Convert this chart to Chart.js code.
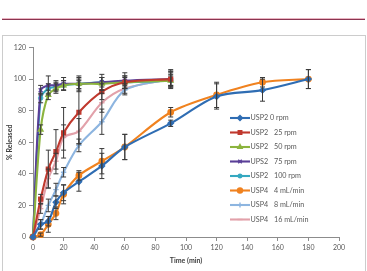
<!DOCTYPE html>
<html>
<head>
<meta charset="utf-8">
<script src="https://cdn.jsdelivr.net/npm/chart.js@4/dist/chart.umd.min.js"></script>
<style>
html,body{margin:0;padding:0;background:#fff;}
#wrap{position:relative;width:367px;height:271px;overflow:hidden;}
#topline{position:absolute;left:2px;top:18.5px;width:363px;height:1.5px;background:#8a3550;box-shadow:0 -1px 0 #eab3c1;}
#box{position:absolute;left:2px;top:35px;width:362px;height:260px;border:1px solid #cccccc;}
canvas{position:absolute;left:0;top:0;}
</style>
</head>
<body>
<div id="wrap">
<div id="topline"></div>
<div id="box"></div>
<canvas id="c" width="367" height="271"></canvas>
</div>
<script>
// ---- data ----
const timeLong  = [0, 5, 10, 15, 20, 30, 45, 60, 90, 120, 150, 180];
const timeShort = [0, 5, 10, 15, 20, 30, 45, 60, 90];

const usp2_0rpm    = [0, 8, 10, 22, 28, 35, 45, 57, 72, 89, 93, 100];
const usp2_0rpmErr = [0, 3, 3, 4, 5, 6, 8, 8, 2, 8, 7, 6];

const usp2_25rpm    = [0, 24, 43, 54, 66, 79, 92, 98, 100];
const usp2_25rpmErr = [0, 3, 12, 14, 16, 20, 5, 4, 5];

const usp2_50rpm    = [0, 68, 90, 94, 96, 97, 97, 98, 99];
const usp2_50rpmErr = [0, 3, 3, 3, 3, 4, 4, 4, 4];

const ups2_75rpm    = [0, 93, 96, 96, 97, 97, 98, 99, 100];
const ups2_75rpmErr = [0, 3, 6, 3, 4, 5, 5, 5, 6];

const usp2_100rpm    = [0, 88, 94, 95, 96, 97, 98, 98, 99];
const usp2_100rpmErr = [0, 3, 3, 3, 3, 3, 3, 3, 3];

const usp4_4ml    = [0, 1.5, 8, 15, 27, 39, 48, 57, 79, 90, 98, 100];
const usp4_4mlErr = [0, 1, 5, 4, 6, 3, 8, 8, 3, 8, 3, 6];

const usp4_8ml    = [0, 8, 20, 30, 41, 58, 73, 93, 100];
const usp4_8mlErr = [0, 3, 4, 4, 3, 4, 8, 3, 5];

const usp4_16ml    = [0, 18, 37, 48, 63, 67, 85, 94, 100];
const usp4_16mlErr = [0, 3, 6, 5, 8, 8, 6, 3, 4];

const xTicks = [0, 20, 40, 60, 80, 100, 120, 140, 160, 180, 200];
const yTicks = [0, 20, 40, 60, 80, 100, 120];

const FONT = "Lato, 'Open Sans', sans-serif";

function pts(xs, ys){ return ys.map((y,i)=>({x:xs[i], y:y})); }

function ds(label, xs, ys, errs, color, style){
  return {
    label, data: pts(xs, ys), errors: errs,
    borderColor: color, backgroundColor: color,
    pointStyle: style, pointRadius: 2.7, pointBorderWidth: 1.4,
    pointBorderColor: color, borderWidth: 2.1, tension: 0.3,
    fill: false, clip: false
  };
}

const datasets = [
  ds('USP2 0 rpm',    timeLong,  usp2_0rpm,   usp2_0rpmErr,   '#2f6db3', 'rectRot'),
  ds('USP2 25 rpm',   timeShort, usp2_25rpm,  usp2_25rpmErr,  '#c0392e', 'rect'),
  ds('USP2 50 rpm',   timeShort, usp2_50rpm,  usp2_50rpmErr,  '#8cb43e', 'triangle'),
  ds('UPS2 75 rpm',   timeShort, ups2_75rpm,  ups2_75rpmErr,  '#5a3f98', 'crossRot'),
  ds('USP2 100 rpm',  timeShort, usp2_100rpm, usp2_100rpmErr, '#35a8c0', 'star'),
  ds('USP4 4 mL/min', timeLong,  usp4_4ml,    usp4_4mlErr,    '#f0821f', 'circle'),
  ds('USP4 8 mL/min', timeShort, usp4_8ml,    usp4_8mlErr,    '#8db5e0', 'cross'),
  ds('USP4 16 mL/min',timeShort, usp4_16ml,   usp4_16mlErr,   '#e2a1aa', 'line')
];

const errorBars = {
  id: 'errorBars',
  afterDatasetsDraw(chart){
    const {ctx, scales:{x, y}} = chart;
    ctx.save();
    ctx.strokeStyle = '#3a3a3a';
    ctx.lineWidth = 1;
    chart.data.datasets.forEach(d=>{
      d.data.forEach((p,i)=>{
        const e = d.errors[i];
        if(!e) return;
        const px = x.getPixelForValue(p.x);
        const y1 = y.getPixelForValue(p.y + e);
        const y2 = y.getPixelForValue(p.y - e);
        ctx.beginPath();
        ctx.moveTo(px, y1); ctx.lineTo(px, y2);
        ctx.moveTo(px-2.5, y1); ctx.lineTo(px+2.5, y1);
        ctx.moveTo(px-2.5, y2); ctx.lineTo(px+2.5, y2);
        ctx.stroke();
      });
    });
    ctx.restore();
  }
};

const legendPlugin = {
  id: 'customLegend',
  afterDraw(chart){
    const ctx = chart.ctx;
    ctx.save();
    const x0 = 230, x1 = 250, top = 118, step = 14.5;
    ctx.font = "7.2px " + FONT;
    ctx.textBaseline = 'middle';
    chart.data.datasets.forEach((d,i)=>{
      const yy = top + i*step;
      ctx.strokeStyle = d.borderColor;
      ctx.fillStyle = d.borderColor;
      ctx.lineWidth = 2.1;
      ctx.beginPath(); ctx.moveTo(x0, yy); ctx.lineTo(x1, yy); ctx.stroke();
      ctx.lineWidth = 1.4;
      Chart.helpers.drawPoint(ctx, {pointStyle: d.pointStyle, radius: 2.5, borderWidth: 1.4, rotation: 0}, (x0+x1)/2, yy);
      ctx.fillStyle = '#595959';
      const sp = d.label.indexOf(' ');
      const a = d.label.slice(0, sp), b = d.label.slice(sp+1);
      if(i === 0){
        ctx.fillText(d.label, x1 + 0.5, yy);
      } else {
        ctx.fillText(a, x1 + 0.5, yy);
        ctx.fillText(b, 274, yy);
      }
    });
    ctx.restore();
  }
};

new Chart(document.getElementById('c'), {
  type: 'line',
  data: { datasets },
  plugins: [errorBars, legendPlugin],
  options: {
    responsive: false,
    animation: false,
    layout: { padding: { left: 0, top: 47.5, right: 28, bottom: 0 } },
    plugins: { legend: { display: false }, tooltip: { enabled: false } },
    scales: {
      x: {
        type: 'linear', min: 0, max: 200,
        afterBuildTicks: s => { s.ticks = xTicks.map(v=>({value:v})); },
        afterFit: s => { s.height = 34; },
        grid: { drawOnChartArea: false, drawTicks: true, tickLength: 4, color: '#8c8c8c' },
        border: { color: '#8c8c8c', width: 1 },
        ticks: { font: { family: FONT, size: 7 }, color: '#595959', padding: 3, maxRotation: 0 },
        title: { display: true, text: 'Time (min)', font: { family: FONT, size: 7, weight: 'bold' }, color: '#404040', padding: { top: 0, bottom: 6 } }
      },
      y: {
        type: 'linear', min: 0, max: 120,
        afterBuildTicks: s => { s.ticks = yTicks.map(v=>({value:v})); },
        afterFit: s => { s.width = 33; },
        grid: { drawOnChartArea: false, drawTicks: true, tickLength: 4, color: '#8c8c8c' },
        border: { color: '#8c8c8c', width: 1 },
        ticks: { font: { family: FONT, size: 7 }, color: '#595959', padding: 3 },
        title: { display: true, text: '% Released', font: { family: FONT, size: 7, weight: 'bold' }, color: '#404040', padding: { top: 6, bottom: 0 } }
      }
    }
  }
});
</script>
</body>
</html>
